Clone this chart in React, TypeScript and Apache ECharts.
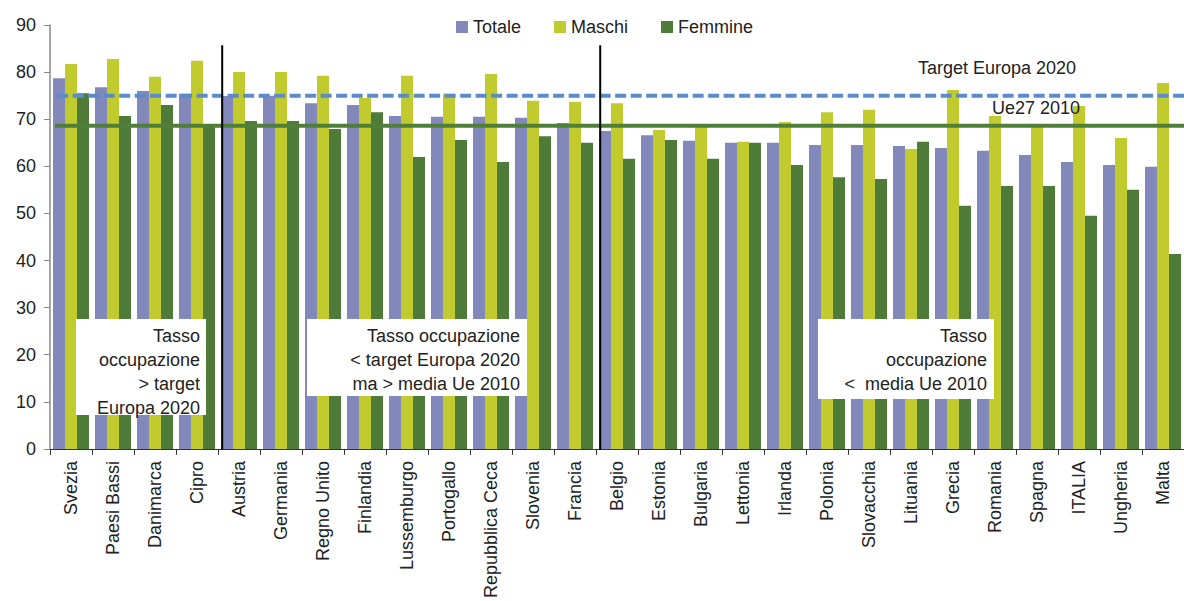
import React, { useEffect, useRef } from "react";
import * as echarts from "echarts";

const categories = [
  "Svezia", "Paesi Bassi", "Danimarca", "Cipro", "Austria", "Germania", "Regno Unito",
  "Finlandia", "Lussemburgo", "Portogallo", "Repubblica Ceca", "Slovenia", "Francia",
  "Belgio", "Estonia", "Bulgaria", "Lettonia", "Irlanda", "Polonia", "Slovacchia",
  "Lituania", "Grecia", "Romania", "Spagna", "ITALIA", "Ungheria", "Malta",
];
const totale = [78.7, 76.8, 76.0, 75.4, 74.9, 75.0, 73.4, 73.0, 70.7, 70.5, 70.5, 70.3, 69.2, 67.5, 66.6, 65.4, 65.0, 65.0, 64.5, 64.5, 64.3, 63.9, 63.3, 62.4, 60.9, 60.3, 59.9];
const maschi = [81.7, 82.8, 79.0, 82.4, 80.0, 80.0, 79.2, 74.5, 79.2, 75.4, 79.6, 73.9, 73.7, 73.4, 67.7, 69.0, 65.2, 69.4, 71.5, 72.0, 63.7, 76.2, 70.7, 69.0, 72.8, 66.0, 77.7];
const femmine = [75.5, 70.7, 73.0, 68.8, 69.6, 69.6, 67.9, 71.5, 62.0, 65.6, 60.9, 66.4, 65.0, 61.6, 65.6, 61.6, 65.0, 60.3, 57.7, 57.3, 65.2, 51.6, 55.8, 55.8, 49.5, 55.0, 41.4];
const seriesNames = ["Totale", "Maschi", "Femmine"];
const targetEuropa2020 = 75;
const ue27_2010 = 68.6;
const groupSeparators = [3.6, 12.6];
const yTicks = { min: 0, max: 90, interval: 10 };

const FONT = "Liberation Sans, Arial, sans-serif";
const TXT = "#222222";

export default function App() {
  const ref = useRef<HTMLDivElement>(null);
  useEffect(() => {
    if (!ref.current) return;
    const chart = echarts.init(ref.current, undefined, { renderer: "svg" });
    const colors = ["#8289BA", "#C2CB2E", "#4E7C38"];
    const barData = [totale, maschi, femmine];
    const lastIdx = categories.length - 0.5;
    const option: any = {
      animation: false,
      textStyle: { fontFamily: FONT },
      legend: {
        data: seriesNames,
        left: 451,
        top: 13,
        icon: "rect",
        itemWidth: 12,
        itemHeight: 12,
        itemGap: 33,
        textStyle: { fontSize: 18, color: TXT, fontFamily: FONT },
      },
      grid: { left: 50, top: 25, width: 1139.4, height: 424 },
      xAxis: [
        {
          type: "category",
          data: categories,
          axisLine: { onZero: false, lineStyle: { color: "#333", width: 1 } },
          axisTick: { show: true, length: 6, lineStyle: { color: "#333" } },
          axisLabel: { rotate: 90, interval: 0, margin: 12, fontSize: 18, color: TXT, fontFamily: FONT },
        },
        { type: "value", min: -0.5, max: lastIdx, show: false },
      ],
      yAxis: {
        type: "value",
        min: yTicks.min,
        max: yTicks.max,
        interval: yTicks.interval,
        axisLine: { show: true, onZero: false, lineStyle: { color: "#888", width: 1.5 } },
        axisTick: { show: true, length: 6, lineStyle: { color: "#888" } },
        splitLine: { show: false },
        axisLabel: { margin: 14, fontSize: 18, color: TXT, fontFamily: FONT },
      },
      series: [
        ...seriesNames.map((n, i) => ({
          name: n,
          type: "bar",
          data: barData[i],
          barWidth: 12,
          barGap: "0%",
          itemStyle: { color: colors[i] },
          z: 2,
        })),
        {
          type: "line",
          xAxisIndex: 1,
          data: [[-0.33, targetEuropa2020], [lastIdx, targetEuropa2020]],
          symbol: "none",
          lineStyle: { color: "#5A8BCB", width: 4, type: [11, 4.5] },
          z: 5,
          silent: true,
        },
        {
          type: "line",
          xAxisIndex: 1,
          data: [[-0.38, ue27_2010], [lastIdx, ue27_2010]],
          symbol: "none",
          lineStyle: { color: "#4F7F39", width: 4 },
          z: 5,
          silent: true,
        },
        ...groupSeparators.map((s) => ({
          type: "line",
          xAxisIndex: 1,
          data: [[s, -0.7], [s, 85.7]],
          symbol: "none",
          lineStyle: { color: "#000", width: 2 },
          z: 6,
          silent: true,
        })),
      ],
      graphic: [
        { type: "rect", z: 100, shape: { x: 76, y: 319, width: 130, height: 96 }, style: { fill: "#fff" } },
        {
          type: "text", z: 101, x: 200, y: 324,
          style: { text: "Tasso\noccupazione\n> target\nEuropa 2020", align: "right", verticalAlign: "top", lineHeight: 24, font: `18px ${FONT}`, fill: TXT },
        },
        { type: "rect", z: 100, shape: { x: 307, y: 319, width: 220, height: 77 }, style: { fill: "#fff" } },
        {
          type: "text", z: 101, x: 520, y: 324,
          style: { text: "Tasso occupazione\n< target Europa 2020\nma > media Ue 2010", align: "right", verticalAlign: "top", lineHeight: 24, font: `18px ${FONT}`, fill: TXT },
        },
        { type: "rect", z: 100, shape: { x: 818, y: 319, width: 176, height: 80 }, style: { fill: "#fff" } },
        {
          type: "text", z: 101, x: 987, y: 324,
          style: { text: "Tasso\noccupazione\n<  media Ue 2010", align: "right", verticalAlign: "top", lineHeight: 24, font: `18px ${FONT}`, fill: TXT },
        },
        {
          type: "text", z: 101, x: 997, y: 68,
          style: { text: "Target Europa 2020", align: "center", verticalAlign: "middle", font: `18px ${FONT}`, fill: TXT },
        },
        {
          type: "text", z: 101, x: 1036, y: 108,
          style: { text: "Ue27 2010", align: "center", verticalAlign: "middle", font: `18px ${FONT}`, fill: TXT },
        },
      ],
    };
    chart.setOption(option);
    return () => chart.dispose();
  }, []);
  return (
    <div
      ref={ref}
      style={{ position: "fixed", left: 0, top: 0, width: 1184, height: 601, background: "#fff", overflow: "hidden" }}
    />
  );
}
